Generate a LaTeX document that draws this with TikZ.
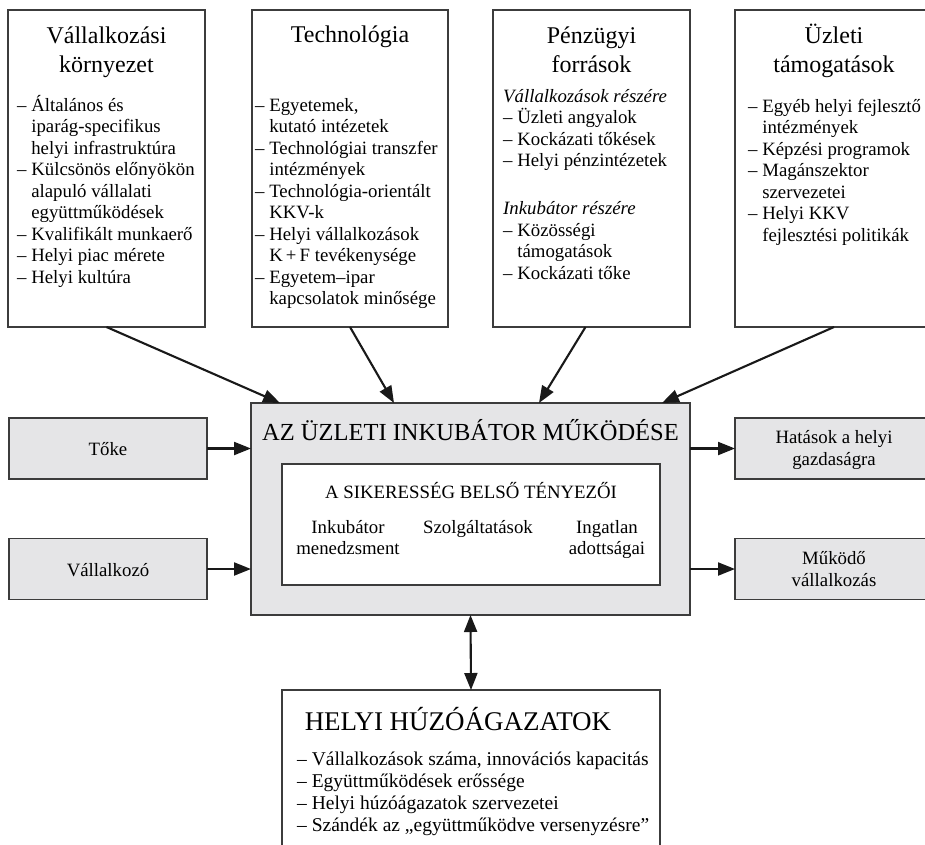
\documentclass[tikz,border=0pt]{standalone}
\usepackage{fontspec}
\setmainfont{Liberation Serif}
\usetikzlibrary{arrows.meta,calc}
\definecolor{boxgray}{RGB}{229,229,231}
\definecolor{edge}{RGB}{60,60,60}
\newcommand\ind{\hphantom{– }}
\newcommand\hs[1]{\rule{0pt}{#1}}
\begin{document}
\begin{tikzpicture}[x=1pt,y=-1pt,
  box/.style={draw=edge,line width=1.1pt,fill=white,inner sep=0pt,outer sep=0pt},
  gbox/.style={draw=edge,line width=1.4pt,fill=boxgray,inner sep=0pt,outer sep=0pt},
  ttl/.style={font=\fontsize{24}{29}\selectfont,align=center,inner sep=0pt,anchor=north},
  itm/.style={font=\fontsize{18.8}{21.5}\selectfont,align=left,inner sep=0pt,anchor=north west},
  lbl/.style={font=\fontsize{18.8}{22}\selectfont,align=center,inner sep=0pt,anchor=north},
  arr/.style={draw=black!90,line width=2.1pt,-{Triangle[length=17pt,width=13pt]}},
  darr/.style={draw=black!90,line width=2.1pt,{Triangle[length=17pt,width=13pt]}-{Triangle[length=17pt,width=13pt]}},
]
\useasboundingbox (0,0) rectangle (925,844);
\fill[white] (0,0) rectangle (925,844);

% top boxes
\node[box,minimum width=197pt,minimum height=317pt] (b1) at (106.5,168.5) {};
\node[box,minimum width=196pt,minimum height=317pt] (b2) at (350,168.5) {};
\node[box,minimum width=197pt,minimum height=317pt] (b3) at (591.5,168.5) {};
\node[box,minimum width=198pt,minimum height=317pt] (b4) at (834,168.5) {};

\node[ttl] (t1) at (106.5,17) {\hs{26pt}Vállalkozási\\környezet};
\node[itm] (i1) at (17,91) {\hs{20pt}– Általános és\\\ind iparág-specifikus\\\ind helyi infrastruktúra\\– Külcsönös előnyökön\\\ind alapuló vállalati\\\ind együttműködések\\– Kvalifikált munkaerő\\– Helyi piac mérete\\– Helyi kultúra};

\node[ttl] (t2) at (350,16) {\hs{26pt}Technológia};
\node[itm] (i2) at (255,91) {\hs{20pt}– Egyetemek,\\\ind kutató intézetek\\– Technológiai transzfer\\\ind intézmények\\– Technológia-orientált\\\ind KKV-k\\– Helyi vállalkozások\\\ind K\,+\,F tevékenysége\\– Egyetem–ipar\\\ind kapcsolatok minősége};

\node[ttl] (t3) at (591.5,17) {\hs{26pt}Pénzügyi\\források};
\node[itm] (i3) at (503,82) {\hs{20pt}\textit{Vállalkozások részére}\\– Üzleti angyalok\\– Kockázati tőkések\\– Helyi pénzintézetek\\[26.5pt]\textit{Inkubátor részére}\\– Közösségi\\\ind támogatások\\– Kockázati tőke};

\node[ttl] (t4) at (834,17) {\hs{26pt}Üzleti\\támogatások};
\node[itm] (i4) at (748,92) {\hs{20pt}– Egyéb helyi fejlesztő\\\ind intézmények\\– Képzési programok\\– Magánszektor\\\ind szervezetei\\– Helyi KKV\\\ind fejlesztési politikák};

% centre
\node[gbox,minimum width=439pt,minimum height=212pt] (ctr) at (470.5,509) {};
\node[ttl,font=\fontsize{24.5}{29}\selectfont,anchor=base] (ct) at (470.5,440) {AZ ÜZLETI INKUBÁTOR MŰKÖDÉSE};
\node[box,minimum width=378pt,minimum height=121pt] (inn) at (471,524.5) {};
\node[lbl,anchor=base] (it) at (471,498) {A SIKERESSÉG BELSŐ TÉNYEZŐI};
\node[lbl,font=\fontsize{18.8}{21}\selectfont] (f1) at (348,513) {\hs{20pt}Inkubátor\\menedzsment};
\node[lbl,anchor=base] (f2) at (478,533) {Szolgáltatások};
\node[lbl,font=\fontsize{18.8}{21}\selectfont] (f3) at (607,513) {\hs{20pt}Ingatlan\\adottságai};

% side boxes
\node[gbox,line width=1.1pt,minimum width=198pt,minimum height=61pt] (toke) at (108,448.5) {};
\node[lbl,anchor=base] at (108,455) {Tőke};
\node[gbox,line width=1.1pt,minimum width=198pt,minimum height=61pt] (vall) at (108,569) {};
\node[lbl,anchor=base] at (108,576) {Vállalkozó};
\node[gbox,line width=1.1pt,minimum width=198pt,minimum height=61pt] (hat) at (834,448.5) {};
\node[lbl] at (834,423) {\hs{20pt}Hatások a helyi\\gazdaságra};
\node[gbox,line width=1.1pt,minimum width=198pt,minimum height=61pt] (mk) at (834,569) {};
\node[lbl] at (834,544) {\hs{20pt}Működő\\vállalkozás};

% bottom box
\node[box,minimum width=378pt,minimum height=180pt] (bot) at (471,780) {};
\node[ttl,font=\fontsize{27}{30}\selectfont,anchor=base] (bt) at (458,730) {HELYI HÚZÓÁGAZATOK};
\node[itm,font=\fontsize{19.5}{22}\selectfont] (bi) at (297,745) {\hs{20pt}– Vállalkozások száma, innovációs kapacitás\\– Együttműködések erőssége\\– Helyi húzóágazatok szervezetei\\– Szándék az „együttműködve versenyzésre”};

% connectors
\coordinate (e1) at (280,403);
\coordinate (e2) at (394,403);
\coordinate (e3) at (539,403);
\coordinate (e4) at (662,403);
\draw[arr] (b1.south) -- (e1);
\draw[arr] (b2.south) -- (e2);
\draw[arr] ($(b3.south)+(-6,0)$) -- (e3);
\draw[arr] (b4.south) -- (e4);
\draw[arr] (toke.east) -- (toke.east -| ctr.west);
\draw[arr] (vall.east) -- (vall.east -| ctr.west);
\draw[arr] (hat.west -| ctr.east) -- (hat.west);
\draw[arr] (mk.west -| ctr.east) -- (mk.west);
\draw[darr] (ctr.south) -- (bot.north);
\end{tikzpicture}
\end{document}
